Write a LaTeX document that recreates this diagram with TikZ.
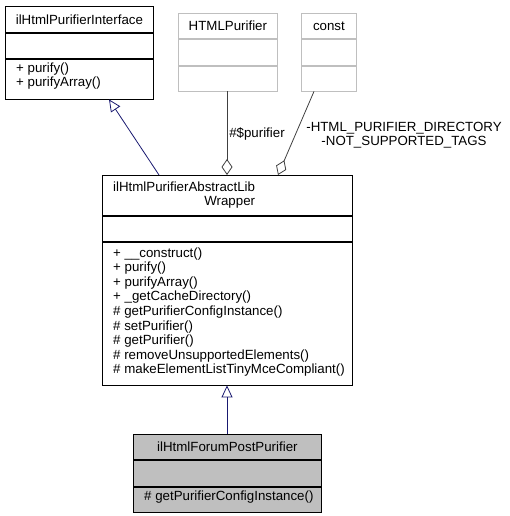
\documentclass[tikz,border=0pt]{standalone}
\usepackage{fontspec}
\setmainfont{Liberation Sans}
\usetikzlibrary{arrows.meta}
\definecolor{edgeblue}{HTML}{191970}
\definecolor{edgegray}{HTML}{404040}
\definecolor{boxgray}{HTML}{BFBFBF}
\definecolor{fillgray}{HTML}{BFBFBF}

\begin{document}
\begin{tikzpicture}[x=1pt,y=-1pt,
  font=\fontsize{13.3}{14.6}\selectfont,
  box/.style={draw=black,line width=0.8pt,inner sep=0pt,anchor=north west},
  gbox/.style={box,draw=boxgray},
  txt/.style={inner sep=0pt,align=left,anchor=west},
  inherit/.style={draw=edgeblue,line width=0.8pt,-{Triangle[open,length=12pt,width=11pt]}},
  aggr/.style={draw=edgegray,line width=0.8pt,-{Diamond[open,length=16pt,width=11pt]}}]
\useasboundingbox (0,0) rectangle (509,516);

% interface
\node[box,minimum width=148pt,minimum height=26pt] (ifaceName) at (5,6) {ilHtmlPurifierInterface};
\node[box,minimum width=148pt,minimum height=25pt] (ifaceAttr) at (ifaceName.south west) {};
\node[box,minimum width=148pt,minimum height=40pt] (ifaceOps) at (ifaceAttr.south west) {};
\node[txt,font=\fontsize{13.3}{13.4}\selectfont] (ifaceOpsTxt) at (16,76) {+ purify()\\+ purifyArray()};

% HTMLPurifier and const
\node[gbox,minimum width=99pt,minimum height=25pt] (hpName) at (178,13) {HTMLPurifier};
\node[gbox,minimum width=99pt,minimum height=26pt] (hpAttr) at (hpName.south west) {};
\node[gbox,minimum width=99pt,minimum height=25pt] (hpOps) at (hpAttr.south west) {};
\node[gbox,minimum width=55pt,minimum height=25pt] (constName) at (301,13) {const};
\node[gbox,minimum width=55pt,minimum height=26pt] (constAttr) at (constName.south west) {};
\node[gbox,minimum width=55pt,minimum height=25pt] (constOps) at (constAttr.south west) {};

% abstract wrapper
\node[box,minimum width=250pt,minimum height=40pt] (absName) at (102,175) {};
\node[txt,align=right] (absNameTxt) at (113,195) {ilHtmlPurifierAbstractLib\\Wrapper};
\node[box,minimum width=250pt,minimum height=25pt] (absAttr) at (absName.south west) {};
\node[box,minimum width=250pt,minimum height=143pt] (absOps) at (absAttr.south west) {};
\node[txt] (absOpsTxt) at (113,312) {+ \_\_construct()\\+ purify()\\+ purifyArray()\\+ \_getCacheDirectory()\\\# getPurifierConfigInstance()\\\# setPurifier()\\\# getPurifier()\\\# removeUnsupportedElements()\\\# makeElementListTinyMceCompliant()};

% forum post purifier
\node[box,fill=fillgray,minimum width=188pt,minimum height=25pt] (fpName) at (133,434) {ilHtmlForumPostPurifier};
\node[box,fill=fillgray,minimum width=188pt,minimum height=26pt] (fpAttr) at (fpName.south west) {};
\node[box,fill=fillgray,minimum width=188pt,minimum height=25pt] (fpOps) at (fpAttr.south west) {};
\node[txt] (fpOpsTxt) at (144,497) {\# getPurifierConfigInstance()};

% connectors
\draw[inherit] ([xshift=57pt]absName.north west) -- ([xshift=104pt]ifaceOps.south west);
\draw[inherit] ([xshift=94pt]fpName.north west) -- ([xshift=125pt]absOps.south west);
\draw[aggr] ([xshift=49pt]hpOps.south west) -- ([xshift=125pt]absName.north west);
\draw[aggr] ([xshift=13pt]constOps.south west) -- ([xshift=176pt]absName.north west);
\node (purifierLbl) at (257,134) {\#\$purifier};
\node[align=center,inner sep=0pt] (constLbl) at (404,135) {-HTML\_PURIFIER\_DIRECTORY\\-NOT\_SUPPORTED\_TAGS};
\end{tikzpicture}
\end{document}
